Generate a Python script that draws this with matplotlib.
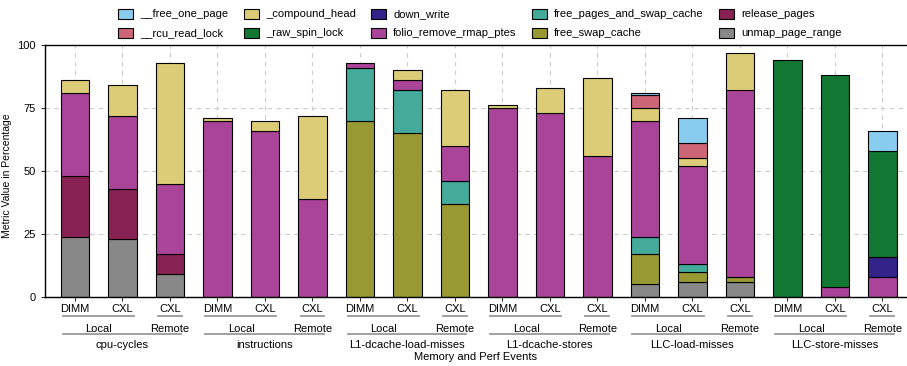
import numpy as np
import matplotlib
matplotlib.use("Agg")
import matplotlib.pyplot as plt
from matplotlib.transforms import blended_transform_factory

plt.rcParams["font.family"] = ["Liberation Sans", "DejaVu Sans"]
plt.rcParams["font.size"] = 8

# x layout: 6 events x (DIMM local, CXL local, CXL remote)
events = ["cpu-cycles", "instructions", "L1-dcache-load-misses",
          "L1-dcache-stores", "LLC-load-misses", "LLC-store-misses"]
configs = ["DIMM", "CXL", "CXL"]

# stacked series, bottom to top
unmap_page_range = [24, 23, 9, 0, 0, 0, 0, 0, 0, 0, 0, 0, 5, 6, 6, 0, 0, 0]
release_pages = [24, 20, 8, 0, 0, 0, 0, 0, 0, 0, 0, 0, 0, 0, 0, 0, 0, 0]
free_swap_cache = [0, 0, 0, 0, 0, 0, 70, 65, 37, 0, 0, 0, 12, 4, 2, 0, 0, 0]
free_pages_and_swap_cache = [0, 0, 0, 0, 0, 0, 21, 17, 9, 0, 0, 0, 7, 3, 0, 0, 0, 0]
folio_remove_rmap_ptes = [33, 29, 28, 70, 66, 39, 2, 4, 14, 75, 73, 56, 46, 39, 74, 0, 4, 8]
down_write = [0, 0, 0, 0, 0, 0, 0, 0, 0, 0, 0, 0, 0, 0, 0, 0, 0, 8]
raw_spin_lock = [0, 0, 0, 0, 0, 0, 0, 0, 0, 0, 0, 0, 0, 0, 0, 94, 84, 42]
compound_head = [5, 12, 48, 1, 4, 33, 0, 4, 22, 1, 10, 31, 5, 3, 15, 0, 0, 0]
rcu_read_lock = [0, 0, 0, 0, 0, 0, 0, 0, 0, 0, 0, 0, 5, 6, 0, 0, 0, 0]
free_one_page = [0, 0, 0, 0, 0, 0, 0, 0, 0, 0, 0, 0, 1, 10, 0, 0, 0, 8]

series = [
    ("unmap_page_range", unmap_page_range, "#888888"),
    ("release_pages", release_pages, "#882255"),
    ("free_swap_cache", free_swap_cache, "#999933"),
    ("free_pages_and_swap_cache", free_pages_and_swap_cache, "#44AA99"),
    ("folio_remove_rmap_ptes", folio_remove_rmap_ptes, "#AA4499"),
    ("down_write", down_write, "#332288"),
    ("_raw_spin_lock", raw_spin_lock, "#117733"),
    ("_compound_head", compound_head, "#DDCC77"),
    ("__rcu_read_lock", rcu_read_lock, "#CC6677"),
    ("__free_one_page", free_one_page, "#88CCEE"),
]

fig = plt.figure(figsize=(9.07, 3.66), dpi=100)
ax = fig.add_axes([45 / 907, 69 / 366, 862 / 907, 252 / 366])

x = np.arange(len(events) * len(configs))
bottom = np.zeros(len(x))
handles = {}
for name, vals, col in series:
    v = np.array(vals, dtype=float)
    m = v > 0
    b = ax.bar(x[m], v[m], 0.6, bottom=bottom[m], color=col,
               edgecolor="black", linewidth=0.8, label=name)
    handles[name] = b
    bottom += v

ax.set_xlim(-0.63, 17.52)
ax.set_ylim(0, 100)
ax.set_yticks([0, 25, 50, 75, 100])
ax.set_xticks(x)
ax.set_xticklabels(configs * len(events))
ax.tick_params(axis="both", length=3, width=0.6, labelsize=8)
ax.tick_params(axis="x", pad=2)
ax.set_axisbelow(True)
ax.grid(True, ls=(0, (4, 4)), color="#cccccc", lw=0.8)
ax.spines["right"].set_visible(False)
for s in ["left", "top", "bottom"]:
    ax.spines[s].set_linewidth(1.0)
ax.set_ylabel("Metric Value in Percentage", fontsize=7.5)
ax.yaxis.set_label_coords(-0.038, 0.48)

# hierarchical x labels under the ticks
tr = blended_transform_factory(ax.transData, ax.transAxes)
line_kw = dict(transform=tr, clip_on=False, color="#999999", lw=1.3)
for g, ev in enumerate(events):
    x0 = g * 3
    ax.plot([x0 - 0.26, x0 + 1.24], [-0.075, -0.075], **line_kw)
    ax.plot([x0 + 1.75, x0 + 2.25], [-0.075, -0.075], **line_kw)
    ax.text(x0 + 0.5, -0.125, "Local", transform=tr, ha="center", va="center")
    ax.text(x0 + 2.0, -0.125, "Remote", transform=tr, ha="center", va="center")
    ax.plot([x0 - 0.26, x0 + 2.24], [-0.145, -0.145], **line_kw)
    ax.text(x0 + 1.0, -0.19, ev, transform=tr, ha="center", va="center")
ax.text(0.5, -0.238, "Memory and Perf Events", transform=ax.transAxes,
        ha="center", va="center")

order = sorted(handles)
fig.legend([handles[k] for k in order], order, ncol=5, loc="upper center",
           bbox_to_anchor=(480 / 907, 1 - 3 / 366), frameon=False,
           borderpad=0, handlelength=1.35, handleheight=1.0,
           handletextpad=0.63, columnspacing=1.4, labelspacing=0.75, fontsize=8)

fig.savefig("out.png", dpi=100)
